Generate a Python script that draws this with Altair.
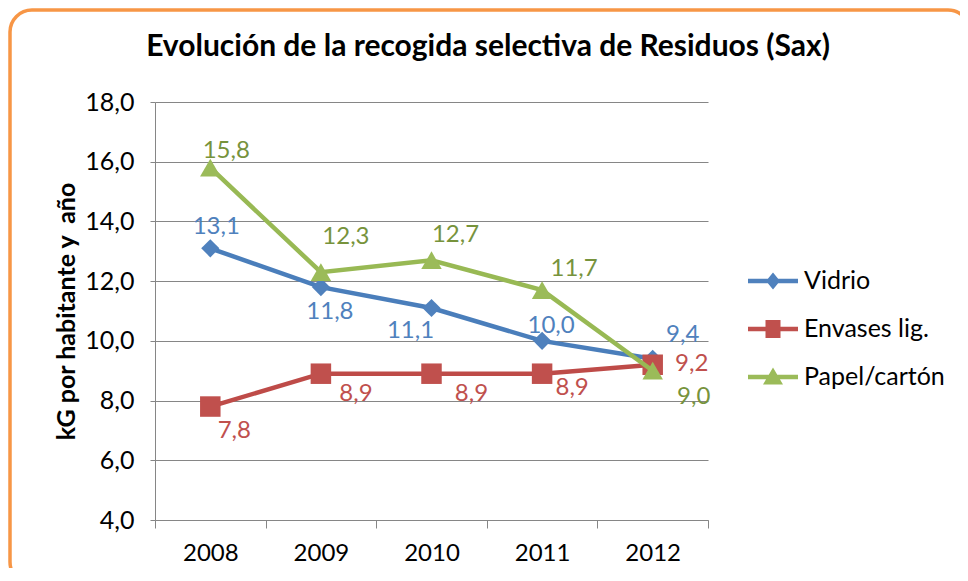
import altair as alt
import pandas as pd

# ---------------- data ----------------
years = ["2008", "2009", "2010", "2011", "2012"]
series = ["Vidrio", "Envases lig.", "Papel/cartón"]
vidrio = [13.1, 11.8, 11.1, 10.0, 9.4]
envases = [7.8, 8.9, 8.9, 8.9, 9.2]
papel = [15.8, 12.3, 12.7, 11.7, 9.0]
y_ticks = [4, 6, 8, 10, 12, 14, 16, 18]

title_text = "Evolución de la recogida selectiva de Residuos (Sax)"
y_title = "kG por habitante y\u00a0 año"

# ---------------- style ----------------
FONT = "Lato"
line_colors = ["#4A7EBB", "#BE4B48", "#98B954"]
marker_colors = ["#4F81BD", "#C0504D", "#9BBB59"]
label_colors = ["#4F81BD", "#C0504D", "#77933C"]
shapes = ["diamond", "square", "triangle-up"]
marker_sizes = [330, 420, 420]
# label placement offsets (pixels) per series / year, as placed in the original
label_dx = [[6, 9, -21, 9, 30], [24, 35, 40, 30, 39], [16, 25, 24, 32, 41]]
label_dy = [[-21, 25, 23, -15, -24], [24, 20, 20, 14, -1], [-17, -35, -25, -21, 26]]
# legend symbols: line segment with the series marker
bar = "M-1,-0.088L1,-0.088L1,0.088L-1,0.088Z "
legend_paths = [
    bar + "M0,-0.34L0.28,0L0,0.34L-0.28,0Z",
    bar + "M-0.3,-0.36L0.3,-0.36L0.3,0.36L-0.3,0.36Z",
    bar + "M0,-0.38L0.4,0.3L-0.4,0.3Z",
]
GRAY = "#868686"
W, H = 553, 418

rows = []
for s, vals in zip(series, [vidrio, envases, papel]):
    for i, (yr, v) in enumerate(zip(years, vals)):
        rows.append({"year": yr, "series": s, "value": v,
                     "label": f"{v:.1f}".replace(".", ","), "idx": i})
df = pd.DataFrame(rows)

x_enc = alt.X(
    "year:N",
    bandPosition=0.5,
    scale=alt.Scale(type="band", domain=years, paddingInner=0, paddingOuter=0),
    axis=alt.Axis(title=None, tickBand="extent", labelAngle=0, labelFont=FONT,
                  labelFontSize=24, labelColor="#000000", labelPadding=13,
                  tickSize=8, tickColor=GRAY, domainColor=GRAY, grid=False),
)
y_enc = alt.Y(
    "value:Q",
    scale=alt.Scale(domain=[4, 18], nice=False, zero=False),
    axis=alt.Axis(title=y_title, values=y_ticks,
                  labelExpr="replace(format(datum.value, '.1f'), '.', ',')",
                  labelFont=FONT, labelFontSize=25, labelColor="#000000",
                  labelPadding=16, tickSize=5, tickColor=GRAY, domainColor=GRAY,
                  grid=True, gridColor=GRAY, gridWidth=1,
                  titleFont=FONT, titleFontSize=25, titleFontWeight="bold",
                  titleColor="#000000", titlePadding=5),
)

base = alt.Chart(df)

# decorative rounded orange frame
frame = alt.Chart(pd.DataFrame({"a": [1]})).mark_rect(
    cornerRadius=22, fillOpacity=0, stroke="#F79646", strokeWidth=3.5, clip=False
).encode(x=alt.value(-145), x2=alt.value(815), y=alt.value(-92), y2=alt.value(482))

# chart title as a text element centred over the whole frame
title = alt.Chart(pd.DataFrame({"t": [title_text]})).mark_text(
    font=FONT, fontSize=30, fontWeight="bold", color="#000000",
    align="center", baseline="alphabetic", clip=False
).encode(text="t:N", x=alt.value(333), y=alt.value(-46))

layers = [frame, title]
for k, s in enumerate(series):
    sub = base.transform_filter(alt.datum.series == s)
    layers.append(sub.mark_line(color=line_colors[k], strokeWidth=4.5).encode(x=x_enc, y=y_enc))
    layers.append(sub.mark_point(shape=shapes[k], filled=True, opacity=1,
                                 color=marker_colors[k], size=marker_sizes[k])
                  .encode(x=x_enc, y=y_enc))

for k, s in enumerate(series):
    for i in range(len(years)):
        layers.append(
            base.transform_filter((alt.datum.series == s) & (alt.datum.idx == i))
            .mark_text(font=FONT, fontSize=24, color=label_colors[k],
                       align="center", baseline="middle",
                       dx=label_dx[k][i], dy=label_dy[k][i])
            .encode(x=x_enc, y=y_enc, text="label:N")
        )

# legend layer (no visible marks, only drives the legend)
legend_df = pd.DataFrame({"series": series, "year": years[:3], "value": [None, None, None]})
legend_layer = alt.Chart(legend_df).mark_point(filled=True, opacity=1).encode(
    x=x_enc,
    y=y_enc,
    color=alt.Color("series:N", scale=alt.Scale(domain=series, range=marker_colors),
                    legend=alt.Legend(title=None)),
    shape=alt.Shape("series:N", scale=alt.Scale(domain=series, range=legend_paths),
                    legend=alt.Legend(title=None, orient="none", legendX=593, legendY=154,
                                      symbolSize=2500, symbolStrokeWidth=0,
                                      symbolOpacity=1, labelFont=FONT, labelFontSize=25,
                                      labelColor="#000000", labelOffset=6,
                                      rowPadding=10, padding=0)),
)
layers.append(legend_layer)

chart = alt.layer(*layers).properties(
    width=W,
    height=H,
    padding={"left": 147, "top": 94, "right": 252, "bottom": 48},
    autosize=alt.AutoSizeParams(type="none"),
    background="white",
).configure_view(strokeWidth=0)

chart.save("out.html", embed_options={"renderer": "svg", "actions": False})
